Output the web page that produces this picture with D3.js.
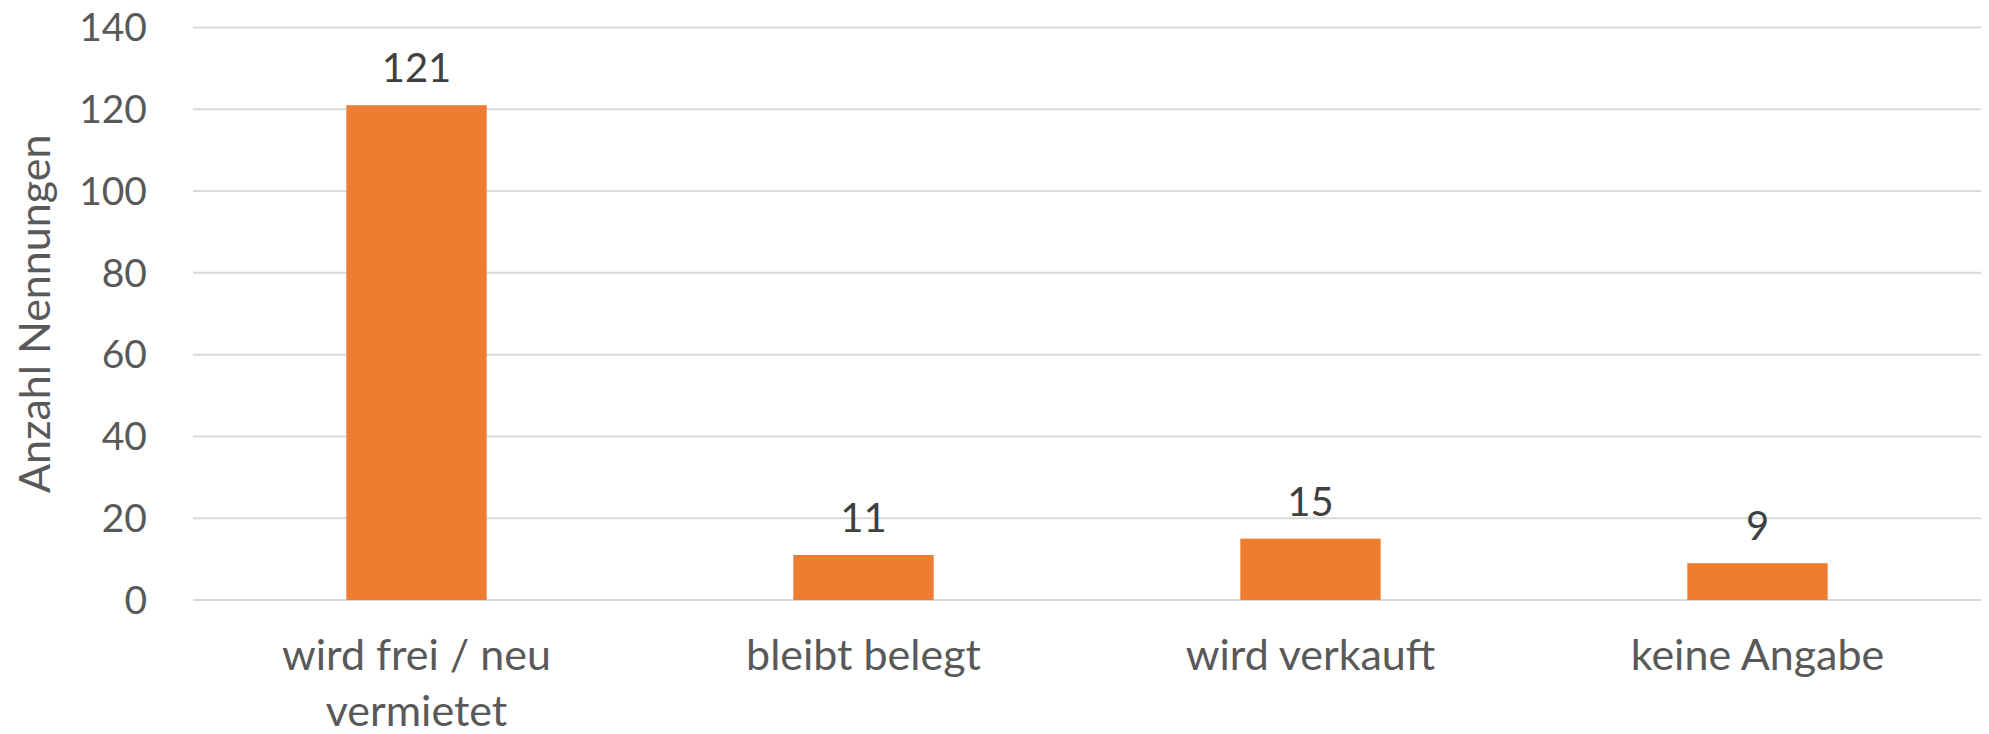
<!DOCTYPE html>
<html>
<head>
<meta charset="utf-8">
<script src="https://cdn.jsdelivr.net/npm/d3@7"></script>
<style>
  body { margin: 0; background: #fff; }
  svg text { font-family: Lato, "Open Sans", sans-serif; }
</style>
</head>
<body>
<svg id="canvas" width="1989" height="734"></svg>
<script>
let categories = [['wird frei / neu', 'vermietet'], ['bleibt belegt'], ['wird verkauft'], ['keine Angabe']]
let values = [121, 11, 15, 9]
let yTicks = [0, 20, 40, 60, 80, 100, 120, 140]
let yTitle = 'Anzahl Nennungen'

let plotLeft = 193
let plotRight = 1981
let plotTop = 27.5
let plotBottom = 600

let canvas = d3.select('#canvas')

let xScale = d3.scaleBand()
               .domain(d3.range(values.length))
               .range([plotLeft, plotRight])
               .padding(0)

let yScale = d3.scaleLinear()
               .domain([0, 140])
               .range([plotBottom, plotTop])

let barWidth = xScale.bandwidth() * 0.314

// gridlines
canvas.selectAll('.grid')
      .data(yTicks)
      .enter()
      .append('line')
      .attr('x1', plotLeft)
      .attr('x2', plotRight)
      .attr('y1', (d) => yScale(d))
      .attr('y2', (d) => yScale(d))
      .attr('stroke', '#d9d9d9')
      .attr('stroke-width', 2)

// y tick labels
canvas.selectAll('.ytick')
      .data(yTicks)
      .enter()
      .append('text')
      .attr('x', 147)
      .attr('y', (d) => yScale(d))
      .attr('dy', '0.35em')
      .attr('text-anchor', 'end')
      .attr('font-size', 39)
      .attr('fill', '#595959')
      .text((d) => d)

// axis title
canvas.append('text')
      .attr('transform', 'translate(50,' + ((plotTop + plotBottom) / 2) + ') rotate(-90)')
      .attr('text-anchor', 'middle')
      .attr('font-size', 43)
      .attr('fill', '#595959')
      .text(yTitle)

// bars
canvas.selectAll('.bar')
      .data(values)
      .enter()
      .append('rect')
      .attr('x', (d, i) => xScale(i) + xScale.bandwidth() / 2 - barWidth / 2)
      .attr('y', (d) => yScale(d))
      .attr('width', barWidth)
      .attr('height', (d) => yScale(0) - yScale(d))
      .attr('fill', '#ed7d31')

// value labels
canvas.selectAll('.val')
      .data(values)
      .enter()
      .append('text')
      .attr('x', (d, i) => xScale(i) + xScale.bandwidth() / 2)
      .attr('y', (d) => yScale(d) - 23)
      .attr('text-anchor', 'middle')
      .attr('font-size', 40)
      .attr('fill', '#404040')
      .text((d) => d)

// category labels
categories.forEach((lines, i) => {
    let t = canvas.append('text')
                  .attr('x', xScale(i) + xScale.bandwidth() / 2)
                  .attr('y', 670)
                  .attr('text-anchor', 'middle')
                  .attr('font-size', 43)
                  .attr('fill', '#595959')
    lines.forEach((line, j) => {
        t.append('tspan')
         .attr('x', xScale(i) + xScale.bandwidth() / 2)
         .attr('dy', j === 0 ? 0 : 56)
         .text(line)
    })
})
</script>
</body>
</html>
